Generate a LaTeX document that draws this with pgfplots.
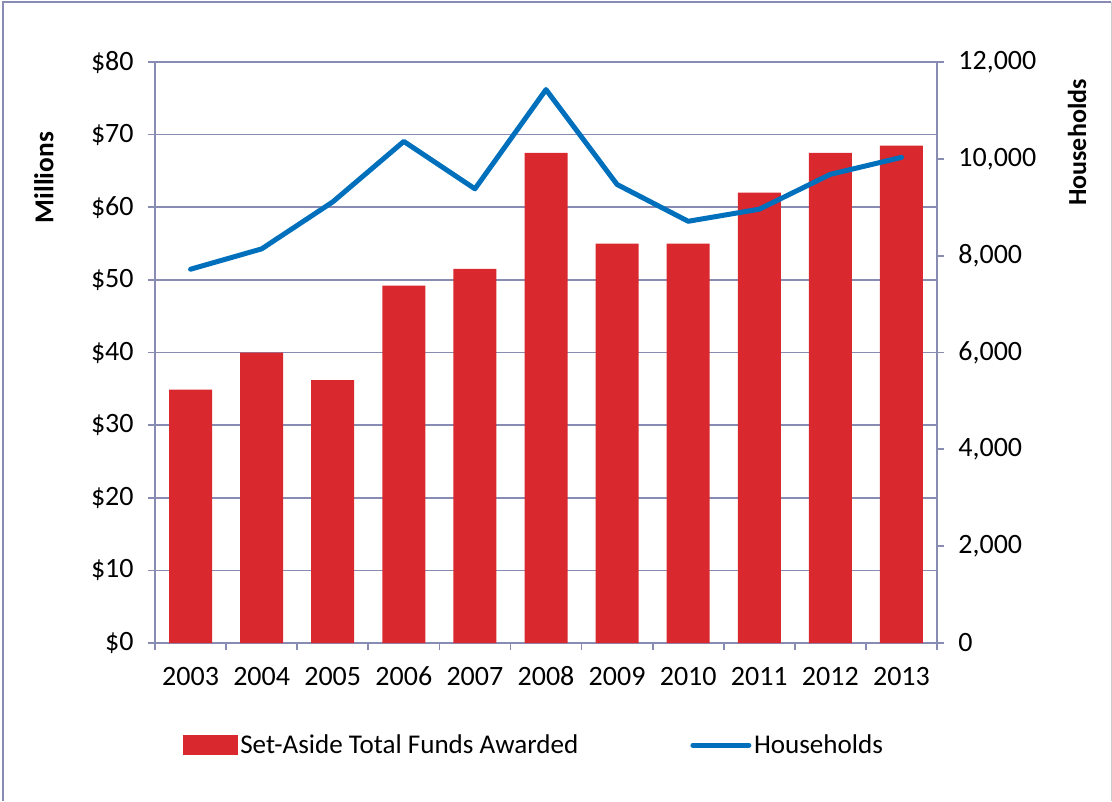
\documentclass[border=0pt]{standalone}
\usepackage{pgfplots}
\pgfplotsset{compat=1.18}
\usepackage{fontspec}
\setmainfont{Carlito}
\definecolor{barred}{RGB}{217,40,46}
\definecolor{lineblue}{RGB}{0,112,188}
\definecolor{gridc}{RGB}{136,140,178}
\begin{document}
\begin{tikzpicture}
\path[use as bounding box] (0,0) rectangle (834pt,600.75pt);
\draw[gridc, line width=1.6pt] (2pt,0) -- (2pt,599.5pt) -- (833pt,599.5pt);
\draw[black!20, line width=0.8pt] (833.4pt,0) -- (833.4pt,599.5pt);
\begin{axis}[
  at={(116.25pt,118.5pt)}, anchor=south west,
  scale only axis, width=586.5pt, height=435.75pt,
  xmin=-0.5, xmax=10.5, ymin=0, ymax=80,
  axis lines*=left,
  axis line style={gridc, line width=1.3pt},
  tick align=outside,
  tick style={gridc, line width=1.3pt},
  major tick length=5.5pt,
  xtick={-0.5,0.5,...,10.5},
  x tick label as interval,
  xticklabels={2003,2004,2005,2006,2007,2008,2009,2010,2011,2012,2013},
  ytick={0,10,...,80},
  yticklabels={\$0,\$10,\$20,\$30,\$40,\$50,\$60,\$70,\$80},
  /pgf/number format/assume math mode=true,
  ticklabel style={font=\fontsize{21}{24}\selectfont, text=black},
  xticklabel style={text height=14pt, text depth=2pt, yshift=-9pt},
  yticklabel style={xshift=-7pt},
  ymajorgrids, grid style={gridc, line width=1.3pt},
  ylabel={\textbf{Millions}},
  every axis y label/.style={at={(rel axis cs:-0.142,0.801)}, rotate=90, anchor=center, font=\fontsize{20.5}{24}\selectfont},
  legend style={draw=none, fill=none, at={(rel axis cs:0.035,-0.1756)}, anchor=west,
    font=\fontsize{20.3}{24}\selectfont, inner sep=0pt, legend columns=2,
    /tikz/every even column/.append style={column sep=82pt},
    nodes={inner sep=2pt}},
  legend cell align=left,
]
\addplot[ybar, bar width=32.25pt, fill=barred, draw=none,
  legend image code/.code={\fill[barred] (0pt,-7.5pt) rectangle (41.25pt,7.5pt);}]
  coordinates {(0,34.9) (1,40.0) (2,36.2) (3,49.2) (4,51.5) (5,67.5) (6,55.0) (7,55.0) (8,62.0) (9,67.5) (10,68.5)};
\addlegendentry{Set-Aside Total Funds Awarded}
\addlegendimage{lineblue, line width=3.75pt, legend image code/.code={\draw[lineblue, line width=3.75pt, line cap=round] (0pt,0pt) -- (42pt,0pt);}}
\addlegendentry{Households}
\end{axis}
\begin{axis}[
  at={(116.25pt,118.5pt)}, anchor=south west,
  scale only axis, width=586.5pt, height=435.75pt,
  xmin=-0.5, xmax=10.5, ymin=0, ymax=12000,
  axis y line*=right, axis x line=none,
  axis line style={gridc, line width=1.3pt},
  tick align=outside,
  tick style={gridc, line width=1.3pt},
  major tick length=5.5pt,
  scaled y ticks=false,
  ytick={0,2000,...,12000},
  yticklabels={0,{2,000},{4,000},{6,000},{8,000},{10,000},{12,000}},
  /pgf/number format/assume math mode=true,
  ticklabel style={font=\fontsize{21}{24}\selectfont, text=black},
  yticklabel style={xshift=7pt},
  ylabel={\textbf{Households}},
  every axis y label/.style={at={(rel axis cs:1.179,0.8614)}, rotate=90, anchor=center, font=\fontsize{19.5}{24}\selectfont},
]
\addplot[lineblue, line width=3.75pt, line join=round, line cap=round, mark=none]
  coordinates {(0,7720) (1,8140) (2,9110) (3,10360) (4,9380) (5,11430) (6,9470) (7,8710) (8,8960) (9,9680) (10,10030)};
\end{axis}
\end{tikzpicture}
\end{document}
